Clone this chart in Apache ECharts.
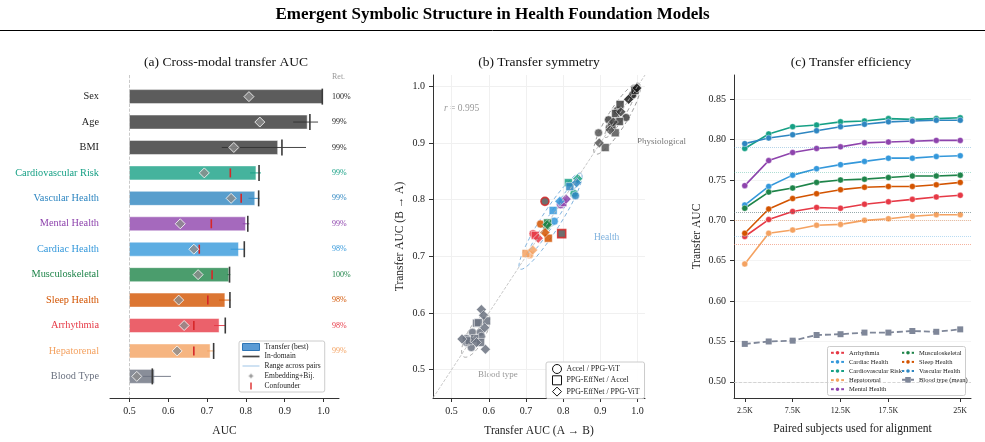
<!DOCTYPE html>
<html>
<head>
<meta charset="utf-8">
<title>Emergent Symbolic Structure in Health Foundation Models</title>
<script src="https://cdn.jsdelivr.net/npm/echarts@6.0.0/dist/echarts.min.js"></script>
<style>
  html, body { margin: 0; padding: 0; background: #fff; }
  #main { width: 985px; height: 442px; }
</style>
</head>
<body>
<div id="main"></div>
<script>
const serif = '"Liberation Serif", "DejaVu Serif", serif'

// (a) cross-modal transfer AUC
const categories = ['Sex', 'Age', 'BMI', 'Cardiovascular Risk', 'Vascular Health', 'Mental Health', 'Cardiac Health', 'Musculoskeletal', 'Sleep Health', 'Arrhythmia', 'Hepatorenal', 'Blood Type']
const categoryColors = ['#333333', '#333333', '#333333', '#16a085', '#2e86c1', '#8e44ad', '#3498db', '#1e8449', '#d35400', '#e63946', '#f4a261', '#6b7280']
const transferBest = [0.998, 0.958, 0.882, 0.826, 0.823, 0.799, 0.781, 0.756, 0.746, 0.731, 0.708, 0.564]
const inDomain = [0.997, 0.965, 0.893, 0.834, 0.833, 0.805, 0.796, 0.758, 0.759, 0.747, 0.717, 0.559]
const rangeLow = [null, 0.922, 0.738, 0.811, 0.807, 0.792, 0.761, 0.752, 0.731, 0.718, 0.700, 0.528]
const rangeHigh = [null, 0.986, 0.955, 0.839, 0.835, 0.809, 0.798, 0.760, 0.761, 0.748, 0.719, 0.607]
const embeddingBij = [0.808, 0.836, 0.769, 0.693, 0.762, 0.631, 0.666, 0.677, 0.627, 0.641, 0.623, 0.519]
const confounder = [null, null, null, 0.760, 0.788, 0.711, 0.680, 0.713, 0.702, 0.666, 0.666, null]
const retention = ['100%', '99%', '99%', '99%', '99%', '99%', '98%', '100%', '98%', '98%', '99%', null]
const aucTicks = [0.5, 0.6, 0.7, 0.8, 0.9, 1.0]

// (b) transfer symmetry, points are [A->B, B->A, group]
const pairNames = ['Accel / PPG-ViT', 'PPG-EffNet / Accel', 'PPG-EffNet / PPG-ViT']
const pairSymbols = ['circle', 'rect', 'diamond']
const groupColors = {
  sex: '#1a1a1a', age: '#3d3d3d', bmi: '#555555', flag: '#555555',
  cvr: '#16a085', vas: '#2e86c1', men: '#8e44ad', car: '#3498db', mus: '#1e8449',
  sle: '#d35400', arr: '#e63946', hep: '#f4a261', blo: '#6b7280'
}
const accelPpgVit = [
  [0.996, 0.996, 'sex'], [0.987, 0.985, 'sex'], [0.969, 0.945, 'age'], [0.922, 0.941, 'age'], [0.946, 0.958, 'age'],
  [0.924, 0.927, 'bmi'], [0.895, 0.918, 'bmi'],
  [0.829, 0.811, 'cvr'], [0.833, 0.807, 'vas'], [0.793, 0.791, 'men'], [0.776, 0.762, 'car'], [0.755, 0.753, 'mus'],
  [0.739, 0.757, 'sle'], [0.719, 0.740, 'arr'], [0.710, 0.703, 'hep'], [0.751, 0.797, 'flag'],
  [0.577, 0.566, 'blo'], [0.556, 0.566, 'blo'], [0.580, 0.559, 'blo'], [0.540, 0.555, 'blo'], [0.553, 0.539, 'blo'], [0.540, 0.548, 'blo']
]
const effnetAccel = [
  [0.993, 0.993, 'sex'], [0.953, 0.968, 'age'], [0.941, 0.952, 'age'], [0.951, 0.938, 'age'], [0.931, 0.930, 'age'],
  [0.940, 0.918, 'bmi'], [0.913, 0.892, 'bmi'],
  [0.814, 0.830, 'cvr'], [0.818, 0.823, 'vas'], [0.799, 0.795, 'men'], [0.773, 0.781, 'car'], [0.758, 0.759, 'mus'],
  [0.760, 0.732, 'sle'], [0.725, 0.737, 'arr'], [0.700, 0.705, 'hep'], [0.796, 0.740, 'flag'],
  [0.567, 0.582, 'blo'], [0.594, 0.586, 'blo'], [0.547, 0.551, 'blo'], [0.562, 0.555, 'blo'], [0.578, 0.548, 'blo'], [0.572, 0.583, 'blo']
]
const effnetPpgVit = [
  [0.998, 0.997, 'sex'], [0.976, 0.977, 'sex'], [0.955, 0.955, 'age'], [0.935, 0.937, 'age'], [0.926, 0.923, 'bmi'],
  [0.897, 0.900, 'bmi'],
  [0.839, 0.837, 'cvr'], [0.836, 0.830, 'vas'], [0.808, 0.801, 'men'], [0.791, 0.797, 'car'], [0.757, 0.756, 'mus'],
  [0.751, 0.742, 'sle'], [0.733, 0.732, 'arr'], [0.718, 0.711, 'hep'],
  [0.580, 0.606, 'blo'], [0.586, 0.596, 'blo'], [0.589, 0.574, 'blo'], [0.528, 0.554, 'blo'], [0.567, 0.548, 'blo'], [0.591, 0.536, 'blo']
]
// cluster ellipses: centre x, centre y, half length along diagonal, half width
const clusterEllipses = [
  [0.945, 0.943, 0.086, 0.022],
  [0.952, 0.950, 0.056, 0.011],
  [0.766, 0.762, 0.118, 0.022],
  [0.770, 0.766, 0.095, 0.010],
  [0.565, 0.560, 0.050, 0.020]
]
const ellipseColors = ['#999999', '#999999', '#7fb2de', '#7fb2de', '#aaaaaa']

// (c) transfer efficiency
const pairedSubjects = [2.5, 5, 7.5, 10, 12.5, 15, 17.5, 20, 22.5, 25]
const subjectTicks = [2.5, 7.5, 12.5, 17.5, 25]
const efficiencyTicks = [0.5, 0.55, 0.6, 0.65, 0.7, 0.75, 0.8, 0.85]
const efficiencyNames = ['Arrhythmia', 'Cardiac Health', 'Cardiovascular Risk', 'Hepatorenal', 'Mental Health', 'Musculoskeletal', 'Sleep Health', 'Vascular Health']
const efficiencyCategory = [9, 6, 3, 10, 5, 7, 8, 4]
const arrhythmiaCurve = [0.680, 0.701, 0.711, 0.716, 0.715, 0.720, 0.723, 0.726, 0.729, 0.731]
const cardiacCurve = [0.719, 0.742, 0.756, 0.764, 0.769, 0.773, 0.777, 0.777, 0.779, 0.780]
const cardiovascularCurve = [0.789, 0.807, 0.816, 0.818, 0.822, 0.823, 0.826, 0.825, 0.826, 0.827]
const hepatorenalCurve = [0.646, 0.684, 0.688, 0.694, 0.695, 0.700, 0.702, 0.705, 0.707, 0.707]
const mentalCurve = [0.743, 0.774, 0.784, 0.789, 0.791, 0.796, 0.797, 0.798, 0.799, 0.799]
const musculoCurve = [0.715, 0.735, 0.740, 0.747, 0.750, 0.751, 0.753, 0.755, 0.755, 0.756]
const sleepCurve = [0.684, 0.714, 0.727, 0.733, 0.738, 0.741, 0.742, 0.742, 0.744, 0.747]
const vascularCurve = [0.795, 0.802, 0.806, 0.811, 0.816, 0.819, 0.822, 0.823, 0.824, 0.824]
const bloodTypeMean = [0.547, 0.550, 0.551, 0.558, 0.559, 0.561, 0.561, 0.563, 0.562, 0.565]
const efficiencyCurves = [arrhythmiaCurve, cardiacCurve, cardiovascularCurve, hepatorenalCurve, mentalCurve, musculoCurve, sleepCurve, vascularCurve]

let chart = echarts.init(document.getElementById('main'))

function labelColor(row) {
  return row < 3 ? '#222' : categoryColors[row]
}

function rowData(values) {
  return values.map((v, i) => [v, i]).filter(d => d[0] !== null)
}

function valueAxis(grid, min, max, ticks, fmt, extra) {
  return Object.assign({
    gridIndex: grid, type: 'value', min: min, max: max,
    nameLocation: 'middle',
    nameTextStyle: {fontSize: 11.5, color: '#222', fontFamily: serif},
    axisLine: {onZero: false, lineStyle: {color: '#333', width: 1}},
    axisTick: {length: 4, lineStyle: {color: '#333'}, customValues: ticks},
    axisLabel: {fontSize: 10, color: '#222', margin: 8, fontFamily: serif, customValues: ticks, formatter: fmt},
    splitLine: {show: false}
  }, extra)
}

function pointData(points) {
  return points.map(p => {
    let item = {value: p, itemStyle: {color: groupColors[p[2]]}}
    if (p[2] === 'flag') {
      item.itemStyle.borderColor = '#d62728'
      item.itemStyle.borderWidth = 1.6
    }
    return item
  })
}

let series = []

// (a)
series.push({
  name: 'Transfer (best)', type: 'custom', xAxisIndex: 0, yAxisIndex: 0, z: 2,
  itemStyle: {color: '#5b9bd5'},
  data: rowData(transferBest),
  renderItem: function (params, api) {
    let row = api.value(1)
    let start = api.coord([0.5, row])
    let end = api.coord([api.value(0), row])
    return {
      type: 'rect',
      shape: {x: start[0], y: start[1] - 7, width: end[0] - start[0], height: 14},
      style: {fill: categoryColors[row], opacity: 0.8, stroke: '#fff', lineWidth: 0.6}
    }
  }
})
series.push({
  name: 'Range across pairs', type: 'custom', xAxisIndex: 0, yAxisIndex: 0, z: 3,
  itemStyle: {color: '#8dbbe2'},
  data: categories.map((c, i) => [rangeLow[i], i, rangeHigh[i]]).filter(d => d[0] !== null),
  renderItem: function (params, api) {
    let row = api.value(1)
    let a = api.coord([api.value(0), row])
    let b = api.coord([api.value(2), row])
    return {
      type: 'line',
      shape: {x1: a[0], y1: a[1], x2: b[0], y2: b[1]},
      style: {stroke: categoryColors[row], lineWidth: 1, opacity: 0.9}
    }
  }
})
series.push({
  name: 'In-domain', type: 'custom', xAxisIndex: 0, yAxisIndex: 0, z: 3,
  itemStyle: {color: '#444'},
  data: rowData(inDomain),
  renderItem: function (params, api) {
    let p = api.coord([api.value(0), api.value(1)])
    return {
      type: 'line',
      shape: {x1: p[0], y1: p[1] - 8, x2: p[0], y2: p[1] + 8},
      style: {stroke: '#3a3a3a', lineWidth: 1.6}
    }
  }
})
series.push({
  name: 'Confounder', type: 'custom', xAxisIndex: 0, yAxisIndex: 0, z: 3,
  itemStyle: {color: '#e04040'},
  data: rowData(confounder),
  renderItem: function (params, api) {
    let p = api.coord([api.value(0), api.value(1)])
    return {
      type: 'line',
      shape: {x1: p[0], y1: p[1] - 4.5, x2: p[0], y2: p[1] + 4.5},
      style: {stroke: '#d62728', lineWidth: 1.6}
    }
  }
})
series.push({
  name: 'Embedding+Bij.', type: 'scatter', xAxisIndex: 0, yAxisIndex: 0, z: 4,
  symbol: 'diamond', symbolSize: 10,
  itemStyle: {color: '#8c8c8c', borderColor: '#fff', borderWidth: 1},
  data: rowData(embeddingBij),
  markLine: {
    silent: true, symbol: 'none', label: {show: false},
    lineStyle: {color: '#bbb', type: 'dashed', width: 0.8},
    data: [{xAxis: 0.5}]
  }
})
series.push({
  name: 'Retention', type: 'custom', xAxisIndex: 0, yAxisIndex: 0, z: 3,
  data: retention.map((r, i) => [1.022, i]).filter(d => retention[d[1]] !== null),
  renderItem: function (params, api) {
    let row = api.value(1)
    let p = api.coord([api.value(0), row])
    return {
      type: 'text', x: p[0], y: p[1],
      style: {text: retention[row], fill: labelColor(row), fontSize: 8, fontFamily: serif, align: 'left', verticalAlign: 'middle'}
    }
  }
})

// (b)
series.push({
  name: 'Clusters', type: 'custom', xAxisIndex: 1, yAxisIndex: 1, z: 1, silent: true,
  data: clusterEllipses,
  renderItem: function (params, api) {
    let cx = api.value(0), cy = api.value(1), a = api.value(2), b = api.value(3)
    let points = []
    for (let k = 0; k <= 80; ++k) {
      let t = k / 80 * Math.PI * 2
      let u = a * Math.cos(t) / Math.SQRT2
      let w = b * Math.sin(t) / Math.SQRT2
      points.push(api.coord([cx + u - w, cy + u + w]))
    }
    return {
      type: 'polyline',
      shape: {points: points},
      style: {stroke: ellipseColors[params.dataIndex], lineWidth: 1, lineDash: [4, 3], fill: null}
    }
  }
})
let pairPoints = [accelPpgVit, effnetAccel, effnetPpgVit]
pairNames.forEach((name, k) => {
  let s = {
    name: name, type: 'scatter', xAxisIndex: 1, yAxisIndex: 1, z: 3,
    symbol: pairSymbols[k], symbolSize: k === 2 ? 10 : 8,
    itemStyle: {opacity: 0.85, borderColor: '#fff', borderWidth: 0.6},
    data: pointData(pairPoints[k])
  }
  if (k === 0) {
    s.markLine = {
      silent: true, symbol: 'none', label: {show: false},
      lineStyle: {color: '#bbb', type: 'dashed', width: 0.8},
      data: [[{coord: [0.45, 0.45]}, {coord: [1.02, 1.02]}]]
    }
  }
  series.push(s)
})

// (c)
efficiencyNames.forEach((name, k) => {
  let row = efficiencyCategory[k]
  series.push({
    name: name, type: 'line', xAxisIndex: 2, yAxisIndex: 2, z: 3,
    symbol: 'circle', symbolSize: 6,
    color: categoryColors[row],
    lineStyle: {width: 1.6, type: 'solid'},
    itemStyle: {borderColor: '#fff', borderWidth: 0.4},
    data: pairedSubjects.map((x, i) => [x, efficiencyCurves[k][i]]),
    markLine: {
      silent: true, symbol: 'none', label: {show: false},
      lineStyle: {color: categoryColors[row], type: 'dotted', width: 1, opacity: 0.35},
      data: [{yAxis: confounder[row]}]
    }
  })
})
series.push({
  name: 'Blood type (mean)', type: 'line', xAxisIndex: 2, yAxisIndex: 2, z: 3,
  symbol: 'rect', symbolSize: 6,
  color: '#7f8799',
  lineStyle: {width: 1.8, type: [6, 3]},
  data: pairedSubjects.map((x, i) => [x, bloodTypeMean[i]]),
  markLine: {
    silent: true, symbol: 'none', label: {show: false},
    lineStyle: {color: '#ccc', type: 'dashed', width: 0.8},
    data: [{yAxis: 0.5}]
  }
})

const legendText = {fontFamily: serif, color: '#222'}

let option = {
  animation: false,
  backgroundColor: '#fff',
  textStyle: {fontFamily: serif},
  grid: [
    {left: 110, top: 75, width: 229, height: 323},
    {left: 433, top: 75, width: 212, height: 323},
    {left: 734, top: 75, width: 237, height: 323}
  ],
  xAxis: [
    valueAxis(0, 0.45, 1.04, aucTicks, v => v.toFixed(1), {name: 'AUC', nameGap: 27}),
    valueAxis(1, 0.45, 1.02, aucTicks, v => v.toFixed(1), {
      name: 'Transfer AUC (A → B)', nameGap: 27,
      splitLine: {show: true, lineStyle: {color: '#f0f0f0', width: 1}}
    }),
    valueAxis(2, 1.375, 26.125, subjectTicks, v => v + 'K', {
      name: 'Paired subjects used for alignment', nameGap: 25,
      axisLabel: {fontSize: 8, color: '#222', margin: 9, fontFamily: serif, customValues: subjectTicks, formatter: v => v + 'K'}
    })
  ],
  yAxis: [
    {
      gridIndex: 0, type: 'value', min: -0.85, max: 11.85, inverse: true,
      axisLine: {show: false, onZero: false}, axisTick: {show: false}, splitLine: {show: false},
      axisLabel: {
        customValues: categories.map((c, i) => i),
        formatter: v => categories[Math.round(v)],
        color: v => labelColor(Math.round(+v)),
        fontSize: 10.3, margin: 11, fontFamily: serif
      }
    },
    valueAxis(1, 0.45, 1.02, aucTicks, v => v.toFixed(1), {
      name: 'Transfer AUC (B → A)', nameGap: 27,
      splitLine: {show: true, lineStyle: {color: '#f0f0f0', width: 1}}
    }),
    valueAxis(2, 0.48, 0.88, efficiencyTicks, v => v.toFixed(2), {
      name: 'Transfer AUC', nameGap: 31,
      splitLine: {show: true, lineStyle: {color: '#f4f4f4', width: 1}}
    })
  ],
  legend: [
    {
      left: 239, top: 341, orient: 'vertical', selectedMode: false, z: 6,
      itemWidth: 17, itemHeight: 7, itemGap: 1.5, padding: [2, 4, 2, 3],
      borderColor: '#ccc', borderWidth: 1, borderRadius: 2, backgroundColor: 'rgba(255,255,255,0.92)',
      textStyle: Object.assign({fontSize: 7.5}, legendText),
      data: [
        {name: 'Transfer (best)', icon: 'rect', itemStyle: {color: '#5b9bd5', borderColor: '#2e75b6', borderWidth: 1}},
        {name: 'In-domain', icon: 'path://M0,0H20V2H0Z', itemStyle: {color: '#444'}},
        {name: 'Range across pairs', icon: 'path://M0,0H20V1H0Z', itemStyle: {color: '#8dbbe2'}},
        {name: 'Embedding+Bij.', icon: 'path://M5,0L10,5L5,10L0,5Z', itemStyle: {color: '#888'}},
        {name: 'Confounder', icon: 'path://M0,0H2V9H0Z', itemStyle: {color: '#e04040'}}
      ]
    },
    {
      left: 546, top: 362, orient: 'vertical', selectedMode: false, z: 6,
      itemWidth: 9, itemHeight: 9, itemGap: 1.3, padding: [2, 5, 2, 6],
      borderColor: '#ccc', borderWidth: 1, borderRadius: 2, backgroundColor: 'rgba(255,255,255,0.92)',
      textStyle: Object.assign({fontSize: 7.8}, legendText),
      data: pairNames.map((n, k) => ({name: n, icon: pairSymbols[k], itemStyle: {color: '#fff', borderColor: '#111', borderWidth: 1, opacity: 1}}))
    },
    {
      left: 830, top: 349, orient: 'vertical', selectedMode: false, z: 6,
      itemWidth: 13, itemHeight: 7, itemGap: 1.5, padding: 0,
      lineStyle: {type: 'solid'},
      textStyle: Object.assign({fontSize: 6.5}, legendText),
      data: efficiencyNames.slice(0, 5)
    },
    {
      left: 901, top: 349, orient: 'vertical', selectedMode: false, z: 6,
      itemWidth: 12, itemHeight: 7, itemGap: 1.5, padding: 0,
      textStyle: Object.assign({fontSize: 6.5}, legendText),
      data: efficiencyNames.slice(5).map(n => ({name: n, lineStyle: {type: 'solid'}})).concat(['Blood type (mean)'])
    }
  ],
  graphic: [
    {type: 'text', x: 492.5, y: 15, style: {text: 'Emergent Symbolic Structure in Health Foundation Models', fontSize: 17, fontWeight: 'bold', fontFamily: serif, fill: '#000', align: 'center', verticalAlign: 'middle'}},
    {type: 'line', shape: {x1: 0, y1: 30.5, x2: 985, y2: 30.5}, style: {stroke: '#000', lineWidth: 1}},
    {type: 'text', x: 226, y: 62, style: {text: '(a) Cross-modal transfer AUC', fontSize: 13.5, fontFamily: serif, fill: '#111', align: 'center', verticalAlign: 'middle'}},
    {type: 'text', x: 539, y: 62, style: {text: '(b) Transfer symmetry', fontSize: 13.5, fontFamily: serif, fill: '#111', align: 'center', verticalAlign: 'middle'}},
    {type: 'text', x: 851, y: 62, style: {text: '(c) Transfer efficiency', fontSize: 13.5, fontFamily: serif, fill: '#111', align: 'center', verticalAlign: 'middle'}},
    {type: 'text', x: 332, y: 77, style: {text: 'Ret.', fontSize: 8, fontFamily: serif, fill: '#999', align: 'left', verticalAlign: 'middle'}},
    {type: 'text', x: 444, y: 108, style: {text: '{i|r} = 0.995', rich: {i: {fontStyle: 'italic', fontSize: 9.5, fontFamily: serif, fill: '#999'}}, fontSize: 9.5, fontFamily: serif, fill: '#999', verticalAlign: 'middle'}},
    {type: 'text', x: 637, y: 142, style: {text: 'Physiological', fontSize: 9, fontFamily: serif, fill: '#777', verticalAlign: 'middle'}},
    {type: 'text', x: 594, y: 237, style: {text: 'Health', fontSize: 9.5, fontFamily: serif, fill: '#7fb2de', verticalAlign: 'middle'}},
    {type: 'text', x: 478, y: 375, style: {text: 'Blood type', fontSize: 9, fontFamily: serif, fill: '#999', verticalAlign: 'middle'}},
    {type: 'rect', z: 5, shape: {x: 827.5, y: 346.5, width: 138, height: 49, r: 2}, style: {fill: 'rgba(255,255,255,0.92)', stroke: '#ccc', lineWidth: 1}}
  ],
  series: series
}

chart.setOption(option)
</script>
</body>
</html>
